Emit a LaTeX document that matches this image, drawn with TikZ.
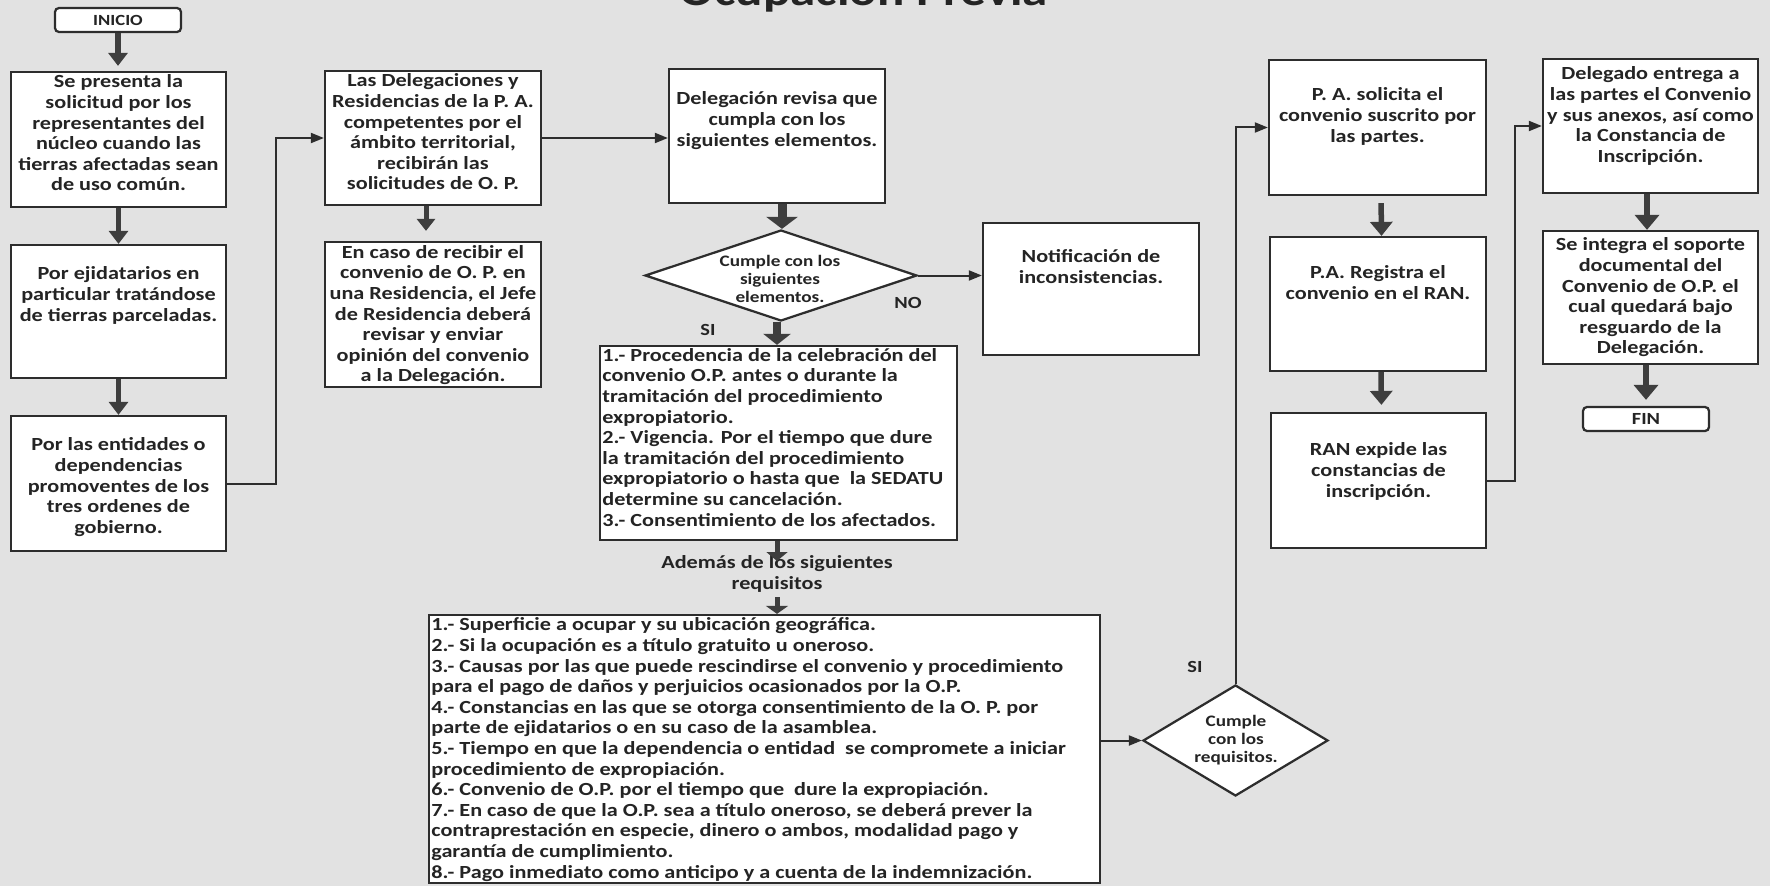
\documentclass[tikz,border=0pt]{standalone}
\usepackage{fontspec}
\setmainfont{Carlito}[FakeStretch=1.2]
\usetikzlibrary{arrows.meta,shapes.geometric,calc}
\definecolor{bgc}{RGB}{226,226,226}
\definecolor{ink}{RGB}{36,36,36}
\definecolor{brd}{RGB}{45,45,45}
\definecolor{fatc}{RGB}{62,62,62}
\newcommand{\FMain}{\fontsize{10.53pt}{11.72pt}\selectfont\bfseries}
\newcommand{\FDia}{\fontsize{9.1pt}{10.24pt}\selectfont\bfseries}
\newcommand{\FLab}{\fontsize{9.67pt}{11pt}\selectfont\bfseries}
\newcommand{\FIni}{\fontsize{8.82pt}{10pt}\selectfont\bfseries}
\newcommand{\FTit}{\fontsize{24.2pt}{29pt}\selectfont\bfseries}
\begin{document}
\begin{tikzpicture}[x=0.2mm,y=-0.2mm,
  box/.style 2 args={draw=brd,line width=0.45mm,fill=white,inner sep=0pt,minimum width=#1,minimum height=#2},
  term/.style={draw=brd,line width=0.45mm,fill=white,rounded corners=0.8mm,inner sep=0pt,minimum width=25.2mm,minimum height=4.8mm,text=ink},
  dia/.style 2 args={draw=brd,line width=0.45mm,fill=white,diamond,inner sep=0pt,minimum width=#1,minimum height=#2},
  txt/.style={align=center,anchor=north,inner sep=0pt,text=ink,font=\FMain},
  ltxt/.style={align=left,anchor=north west,inner sep=0pt,text=ink,font=\FMain},
  dtxt/.style={align=center,anchor=north,inner sep=0pt,text=ink,font=\FDia},
  lab/.style={inner sep=0pt,text=ink,font=\FLab},
  fat/.style n args={3}{draw=fatc,fill=fatc,line width=#1,-{Triangle[width=#2,length=#3]}},
  conn/.style={draw=brd,line width=0.4mm,-{Triangle[width=2mm,length=2.6mm]}}
]
\useasboundingbox (0,0) rectangle (1770,886);
\fill[bgc] (0,0) rectangle (1770,886);
\clip (0,0) rectangle (1770,886);

% title (cut at top edge)
\node[anchor=base,inner sep=0pt,text=ink,font=\FTit] (title) at (864,6) {Ocupación Previa};

% left column
\node[term,font=\FIni] (INI) at (118,20) {INICIO};
\node[box={43mm}{27mm}] (b1) at (118.5,139.5) {};
\node[box={43mm}{26.6mm}] (b2) at (118.5,311.5) {};
\node[box={43mm}{27mm}] (b3) at (118.5,483.5) {};
\node[txt] (t1) at (118.5,74.5) {Se presenta la\\solicitud por los\\representantes del\\núcleo cuando las\\tierras afectadas sean\\de uso común.};
\node[txt] (t2) at (118.5,266.5) {Por ejidatarios en\\particular tratándose\\de tierras parceladas.};
\node[txt] (t3) at (118.5,437.5) {Por las entidades o\\dependencias\\promoventes de los\\tres ordenes de\\gobierno.};

% second column
\node[box={43.2mm}{26.8mm}] (LD) at (433,138) {};
\node[box={43.2mm}{29mm}] (EC) at (433,314.5) {};
\node[txt] (tLD) at (433,73.5) {Las Delegaciones y\\Residencias de la P. A.\\competentes por el\\ámbito territorial,\\recibirán las\\solicitudes de O. P.};
\node[txt] (tEC) at (433,245) {En caso de recibir el\\convenio de O. P. en\\una Residencia, el Jefe\\de Residencia deberá\\revisar y enviar\\opinión del convenio\\a la Delegación.};

% third column
\node[box={43.2mm}{26.8mm}] (DR) at (777,136) {};
\node[txt] (tDR) at (777,91.5) {Delegación revisa que\\cumpla con los\\siguientes elementos.};
\node[dia={54.4mm}{18.2mm}] (D1) at (781,275.5) {};
\node[dtxt] (tD1) at (780,255) {Cumple con los\\siguientes\\elementos.};
\node[lab] (NO) at (908,303) {NO};
\node[lab] (SI1) at (708,330) {SI};
\node[box={71.4mm}{38.8mm}] (IT) at (778.5,443) {};
\node[ltxt] (tIT) at (602,348) {1.- Procedencia de la celebración del\\convenio O.P. antes o durante la\\tramitación del procedimiento\\expropiatorio.\\2.- Vigencia. Por el tiempo que dure\\la tramitación del procedimiento\\expropiatorio o hasta que~ la SEDATU\\determine su cancelación.\\3.- Consentimiento de los afectados.};
\node[txt] (tAd) at (777,555.5) {Además de los siguientes\\requisitos};
\node[box={134.2mm}{53.6mm}] (BB) at (764.5,749) {};
\node[ltxt] (tBB) at (431,617.5) {1.- Superficie a ocupar y su ubicación geográfica.\\2.- Si la ocupación es a título gratuito u oneroso.\\3.- Causas por las que puede rescindirse el convenio y procedimiento\\para el pago de daños y perjuicios ocasionados por la O.P.\\4.- Constancias en las que se otorga consentimiento de la O. P. por\\parte de ejidatarios o en su caso de la asamblea.\\5.- Tiempo en que la dependencia o entidad~ se compromete a iniciar\\procedimiento de expropiación.\\6.- Convenio de O.P. por el tiempo que~ dure la expropiación.\\7.- En caso de que la O.P. sea a título oneroso, se deberá prever la\\contraprestación en especie, dinero o ambos, modalidad pago y\\garantía de cumplimiento.\\8.- Pago inmediato como anticipo y a cuenta de la indemnización.};

% notification
\node[box={43.2mm}{26.4mm}] (NT) at (1091,289) {};
\node[txt] (tNT) at (1091,249.5) {Notificación de\\inconsistencias.};

% second decision
\node[dia={37mm}{22.2mm}] (D2) at (1235.5,740.5) {};
\node[dtxt] (tD2) at (1236,714.8) {Cumple\\con los\\requisitos.};
\node[lab] (SI2) at (1195,667) {SI};

% fourth column
\node[box={43.4mm}{27mm}] (PS) at (1377.5,127.5) {};
\node[box={43.2mm}{26.8mm}] (PR) at (1378,304) {};
\node[box={43mm}{27mm}] (RAN) at (1378.5,480.5) {};
\node[txt] (tPS) at (1377.5,87.5) {P. A. solicita el\\convenio suscrito por\\las partes.};
\node[txt] (tPR) at (1378,265.5) {P.A. Registra el\\convenio en el RAN.};
\node[txt] (tRAN) at (1378.5,442.5) {RAN expide las\\constancias de\\inscripción.};

% fifth column
\node[box={43mm}{26.8mm}] (DE) at (1650.5,126) {};
\node[box={43mm}{26.6mm}] (SIb) at (1650.5,297.5) {};
\node[term,font=\FLab] (FIN) at (1646,419) {FIN};
\node[txt] (tDE) at (1650.5,66.5) {Delegado entrega a\\las partes el Convenio\\y sus anexos, así como\\la Constancia de\\Inscripción.};
\node[txt] (tSI) at (1650.5,237.5) {Se integra el soporte\\documental del\\Convenio de O.P. el\\cual quedará bajo\\resguardo de la\\Delegación.};

% junction coordinates
\coordinate (j1) at (276,0);
\coordinate (j2) at (1515,0);
\coordinate (a1) at (777,561);
\coordinate (a2) at (777,597);

% thick arrows
\draw[fat={1.1mm}{3.8mm}{2.6mm},shorten >=1mm] (INI.south) -- (INI.south |- b1.north);
\draw[fat={1.1mm}{3.8mm}{2.6mm}] (b1.south) -- (b2.north);
\draw[fat={1.1mm}{3.8mm}{2.6mm}] (b2.south) -- (b3.north);
\draw[fat={1mm}{3.6mm}{2.4mm},shorten >=2mm] ([xshift=-1.4mm]LD.south) -- ([xshift=-1.4mm]EC.north);
\draw[fat={1.8mm}{6.2mm}{2.4mm}] ([xshift=0.2mm]D1.north |- DR.south) -- ([xshift=0.2mm]D1.north);
\draw[fat={1.5mm}{5.4mm}{2.2mm}] ([xshift=-0.8mm]D1.south) -- ([xshift=-0.8mm]D1.south |- IT.north);
\draw[fat={1mm}{4.2mm}{1.8mm}] (IT.south -| a1) -- (a1);
\draw[fat={1mm}{4.4mm}{1.6mm}] (a2) -- (a2 |- BB.north);
\draw[fat={1.1mm}{4.4mm}{2.8mm},shorten <=1.4mm] ([xshift=0.7mm]PS.south) -- ([xshift=0.7mm]PR.north);
\draw[fat={1.1mm}{4.4mm}{2.8mm},shorten >=1.4mm] ([xshift=0.6mm]PR.south) -- ([xshift=0.6mm]RAN.north);
\draw[fat={1.2mm}{4.8mm}{3mm}] ([xshift=-0.7mm]DE.south) -- ([xshift=-0.7mm]SIb.north);
\draw[fat={1.2mm}{4.8mm}{3mm},shorten >=1.2mm] (SIb.south -| FIN.north) -- (FIN.north);

% thin connectors
\draw[conn] (b3.east) -- (b3.east -| j1) -- (j1 |- LD.west) -- (LD.west);
\draw[conn] (LD.east) -- (LD.east -| DR.west);
\draw[conn] (D1.east) -- (D1.east -| NT.west);
\draw[conn] (D2.west -| BB.east) -- (D2.west);
\draw[conn] (D2.north) |- (PS.west);
\draw[conn] (RAN.east) -- (RAN.east -| j2) -- (j2 |- DE.west) -- (DE.west);
\end{tikzpicture}
\end{document}
